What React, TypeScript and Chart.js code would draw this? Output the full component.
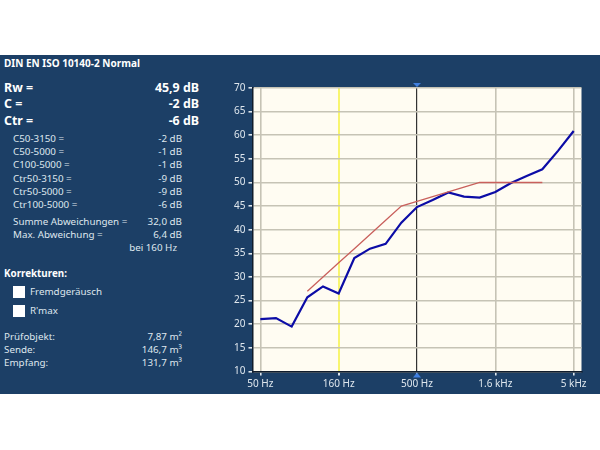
import { useEffect, useRef } from "react";
import { Chart, registerables } from "chart.js";

Chart.register(...registerables);

const bands = ["50", "63", "80", "100", "125", "160", "200", "250", "315", "400", "500", "630", "800", "1000", "1250", "1600", "2000", "2500", "3150", "4000", "5000"];
const measured = [21.1, 21.3, 19.5, 25.7, 28, 26.5, 34, 36, 37, 41.5, 44.8, 46.3, 47.9, 47, 46.8, 48, 49.9, 51.4, 52.8, 56.7, 60.9];
const reference = [null, null, null, 27, 30, 33, 36, 39, 42, 45, 46, 47, 48, 49, 50, 50, 50, 50, 50, null, null];
const tickBands = ["50", "160", "500", "1600", "5000"];
const tickNames = ["50 Hz", "160 Hz", "500 Hz", "1.6 kHz", "5 kHz"];

const mainLabels = ["Rw =", "C =", "Ctr ="];
const mainValues = ["45,9 dB", "-2 dB", "-6 dB"];
const termLabels = ["C50-3150 =", "C50-5000 =", "C100-5000 =", "Ctr50-3150 =", "Ctr50-5000 =", "Ctr100-5000 ="];
const termValues = ["-2 dB", "-1 dB", "-1 dB", "-9 dB", "-9 dB", "-6 dB"];
const corrections = ["Fremdgeräusch", "R'max"];
const roomLabels = ["Prüfobjekt:", "Sende:", "Empfang:"];
const roomValues = ["7,87 m²", "146,7 m³", "131,7 m³"];

const panelBlue = "#1c3f66";
const textColor = "#dfe7ee";
const fontFamily = "'Noto Sans', sans-serif";

const plotDecor = {
  id: "plotDecor",
  beforeDraw(chart: any) {
    const { ctx, chartArea: a } = chart;
    ctx.save();
    ctx.fillStyle = "#fffcf2";
    ctx.fillRect(a.left, a.top, a.right - a.left, a.bottom - a.top);
    ctx.restore();
  },
  afterDraw(chart: any) {
    const { ctx, chartArea: a } = chart;
    const x = chart.scales.x.getPixelForValue(bands.indexOf("500"));
    ctx.save();
    ctx.fillStyle = "#3f7fe0";
    ctx.beginPath();
    ctx.moveTo(x - 4, a.top - 5);
    ctx.lineTo(x + 4, a.top - 5);
    ctx.lineTo(x, a.top - 1);
    ctx.fill();
    ctx.beginPath();
    ctx.moveTo(x - 4, a.bottom + 6);
    ctx.lineTo(x + 4, a.bottom + 6);
    ctx.lineTo(x, a.bottom + 1);
    ctx.fill();
    ctx.restore();
  },
};

function Text({ x, y, right, size = 9.8, bold, children }: any) {
  return (
    <span
      style={{
        position: "absolute",
        top: y,
        left: right === undefined ? x : undefined,
        right: right === undefined ? undefined : 600 - right,
        transform: "translateY(-50%)",
        fontSize: size,
        fontWeight: bold ? 700 : 400,
        color: bold ? "#ffffff" : textColor,
        whiteSpace: "nowrap",
        lineHeight: 1,
      }}
    >
      {children}
    </span>
  );
}

export default function App() {
  const chartRef = useRef<HTMLCanvasElement>(null);

  useEffect(() => {
    if (!chartRef.current) return;
    const chart = new Chart(chartRef.current, {
      type: "line",
      data: {
        labels: bands,
        datasets: [
          {
            data: reference,
            borderColor: "#c9605c",
            borderWidth: 1.3,
            pointRadius: 0,
            spanGaps: false,
          },
          {
            data: measured,
            borderColor: "#0c0ca6",
            borderWidth: 2.2,
            pointRadius: 0,
          },
        ],
      },
      options: {
        animation: false,
        responsive: false,
        layout: { padding: { top: 10, right: 18.5, left: 0, bottom: 0 } },
        plugins: { legend: { display: false }, tooltip: { enabled: false } },
        scales: {
          x: {
            type: "category",
            offset: true,
            afterBuildTicks(scale: any) {
              scale.ticks = scale.ticks.filter((t: any) => tickBands.includes(bands[t.value]));
            },
            afterFit(scale: any) {
              scale.height = 22.5;
            },
            ticks: {
              autoSkip: false,
              maxRotation: 0,
              color: textColor,
              padding: 3,
              font: { family: fontFamily, size: 10 },
              callback: (value: any) => tickNames[tickBands.indexOf(bands[value])],
            },
            grid: {
              lineWidth: (c: any) => {
                const band = bands[c.tick?.value];
                if (band === "160") return 2;
                if (band === "500") return 1.2;
                return 1.6;
              },
              color: (c: any) => {
                const band = bands[c.tick?.value];
                if (band === "160") return "#f8f56f";
                if (band === "500") return "#333333";
                return "#c6c3b5";
              },
              tickColor: textColor,
              tickLength: 4,
            },
            border: { color: "#101c2c", width: 1.5 },
          },
          y: {
            min: 10,
            max: 70,
            afterFit(scale: any) {
              scale.width = 28.5;
            },
            ticks: {
              stepSize: 5,
              color: textColor,
              padding: 3,
              font: { family: fontFamily, size: 10 },
            },
            grid: {
              color: "#c6c3b5",
              lineWidth: 1.6,
              tickColor: textColor,
              tickLength: 4,
            },
            border: { color: "#101c2c", width: 1.5 },
          },
        },
      },
      plugins: [plotDecor],
    });
    return () => chart.destroy();
  }, []);

  return (
    <div style={{ position: "absolute", left: 0, top: 0, width: 600, height: 450, background: "#fff", fontFamily, overflow: "hidden" }}>
      <div style={{ position: "absolute", left: 0, top: 55, width: 600, height: 339, background: panelBlue }} />
      <Text x={4} y={63} bold size={10}>DIN EN ISO 10140-2 Normal</Text>

      {mainLabels.map((label, i) => (
        <Text key={label} x={4} y={88 + i * 16.3} size={12.4} bold>{label}</Text>
      ))}
      {mainValues.map((value, i) => (
        <Text key={i} right={199} y={88 + i * 16.3} size={12.4} bold>{value}</Text>
      ))}

      {termLabels.map((label, i) => (
        <Text key={label} x={13} y={139 + i * 13.2}>{label}</Text>
      ))}
      {termValues.map((value, i) => (
        <Text key={i} right={182} y={139 + i * 13.2}>{value}</Text>
      ))}

      <Text x={13} y={222}>Summe Abweichungen =</Text>
      <Text right={182} y={222}>32,0 dB</Text>
      <Text x={13} y={235}>Max. Abweichung =</Text>
      <Text right={182} y={235}>6,4 dB</Text>
      <Text right={177} y={248}>bei 160 Hz</Text>

      <Text x={4} y={274} bold>Korrekturen:</Text>
      {corrections.map((label, i) => (
        <div key={label}>
          <div style={{ position: "absolute", left: 13, top: 286 + i * 18.5, width: 12, height: 12, background: "#fff" }} />
          <Text x={30} y={292 + i * 18.5}>{label}</Text>
        </div>
      ))}

      {roomLabels.map((label, i) => (
        <Text key={label} x={4} y={337 + i * 13.2}>{label}</Text>
      ))}
      {roomValues.map((value, i) => (
        <Text key={i} right={182} y={337 + i * 13.2}>{value}</Text>
      ))}

      <canvas ref={chartRef} width={376} height={316} style={{ position: "absolute", left: 224, top: 78, width: 376, height: 316 }} />
    </div>
  );
}
